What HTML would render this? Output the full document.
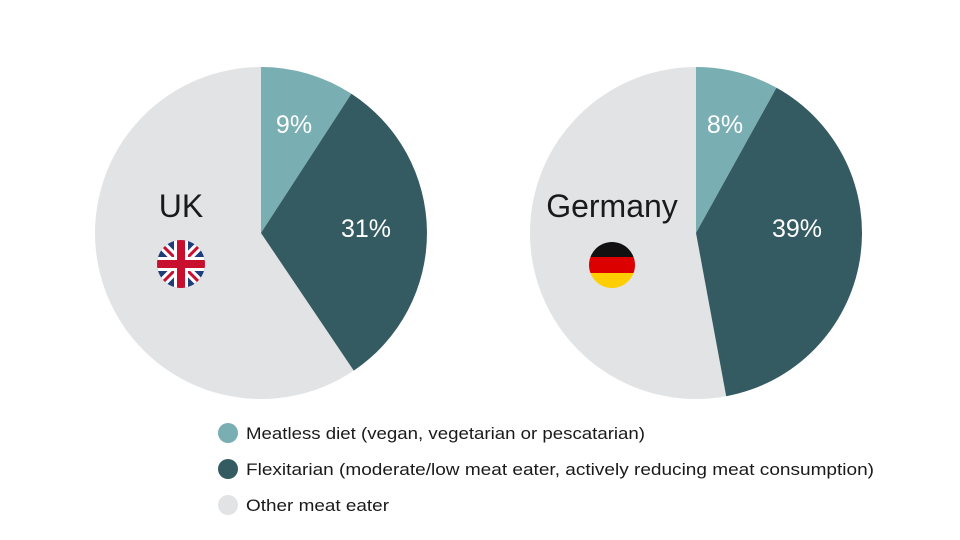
<!DOCTYPE html>
<html><head><meta charset="utf-8"><style>
html,body{margin:0;padding:0;background:#fff;}
svg{display:block;}
text{font-family:"Liberation Sans","DejaVu Sans",sans-serif;}
</style></head><body>
<svg width="960" height="540" viewBox="0 0 960 540" xmlns="http://www.w3.org/2000/svg">
<defs>
<clipPath id="ukc"><circle cx="181" cy="264" r="24"/></clipPath>
<clipPath id="dec"><circle cx="612" cy="265" r="23"/></clipPath>
</defs>
<rect width="960" height="540" fill="#fff"/>
<!-- UK pie -->
<circle cx="261" cy="233" r="166" fill="#e2e3e5"/>
<path d="M261,233 L261,67 A166,166 0 0,1 351.4,93.8 Z" fill="#79aeb2"/>
<path d="M261,233 L351.4,93.8 A166,166 0 0,1 353.8,370.6 Z" fill="#335b61"/>
<text x="294" y="133" font-size="25" fill="#fff" text-anchor="middle">9%</text>
<text x="366" y="237" font-size="25" fill="#fff" text-anchor="middle">31%</text>
<text x="181" y="217" font-size="32" fill="#1a1a1a" text-anchor="middle">UK</text>
<g clip-path="url(#ukc)">
<rect x="150" y="235" width="62" height="60" fill="#1f3d7a"/>
<path d="M155,238 L207,290 M207,238 L155,290" stroke="#fff" stroke-width="9"/>
<path d="M155,238 L207,290 M207,238 L155,290" stroke="#c8102e" stroke-width="3"/>
<rect x="150" y="257" width="62" height="14" fill="#fff"/>
<rect x="174" y="235" width="14" height="60" fill="#fff"/>
<rect x="150" y="260" width="62" height="8" fill="#c8102e"/>
<rect x="177" y="235" width="8" height="60" fill="#c8102e"/>
</g>
<!-- Germany pie -->
<circle cx="696" cy="233" r="166" fill="#e2e3e5"/>
<path d="M696,233 L696,67 A166,166 0 0,1 776.5,87.8 Z" fill="#79aeb2"/>
<path d="M696,233 L776.5,87.8 A166,166 0 0,1 726.2,396.2 Z" fill="#335b61"/>
<text x="725" y="133" font-size="25" fill="#fff" text-anchor="middle">8%</text>
<text x="797" y="237" font-size="25" fill="#fff" text-anchor="middle">39%</text>
<text x="612" y="217" font-size="32" fill="#1a1a1a" text-anchor="middle">Germany</text>
<g clip-path="url(#dec)">
<rect x="585" y="240" width="54" height="17" fill="#111"/>
<rect x="585" y="257" width="54" height="16" fill="#dd0000"/>
<rect x="585" y="273" width="54" height="17" fill="#ffce00"/>
</g>
<!-- Legend -->
<circle cx="228" cy="433" r="10" fill="#79aeb2"/>
<circle cx="228" cy="469" r="10" fill="#335b61"/>
<circle cx="228" cy="505" r="10" fill="#e2e3e5"/>
<text x="246" y="439" font-size="17" fill="#1a1a1a" textLength="399" lengthAdjust="spacingAndGlyphs">Meatless diet (vegan, vegetarian or pescatarian)</text>
<text x="246" y="475" font-size="17" fill="#1a1a1a" textLength="628" lengthAdjust="spacingAndGlyphs">Flexitarian (moderate/low meat eater, actively reducing meat consumption)</text>
<text x="246" y="511" font-size="17" fill="#1a1a1a" textLength="143" lengthAdjust="spacingAndGlyphs">Other meat eater</text>
</svg>
</body></html>
